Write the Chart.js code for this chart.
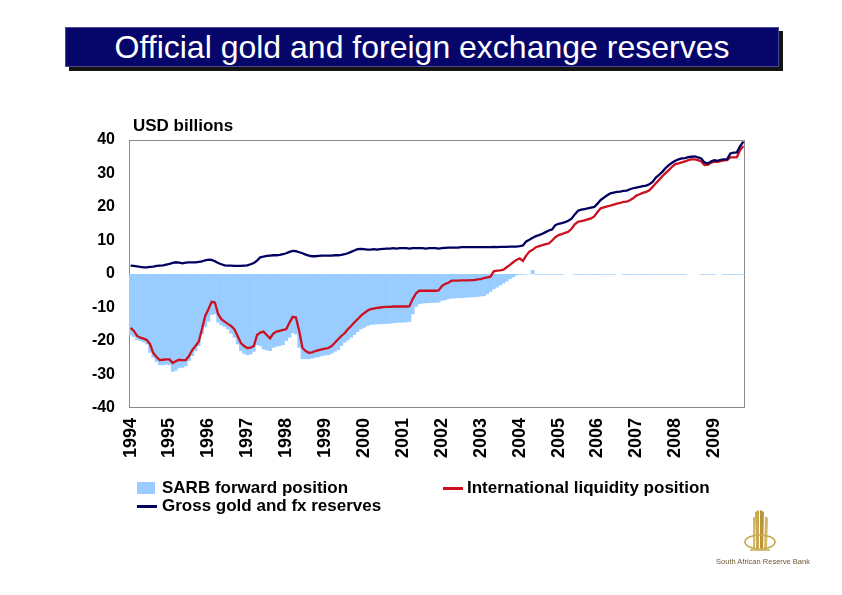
<!DOCTYPE html>
<html><head><meta charset="utf-8">
<script src="https://cdn.jsdelivr.net/npm/chart.js@4.4.1/dist/chart.umd.min.js"></script>
<style>
html,body{margin:0;padding:0;background:#fff;}
#wrap{position:relative;width:842px;height:595px;overflow:hidden;font-family:"Liberation Sans",Arial,sans-serif;color:#000;}
#c{position:absolute;left:0;top:0;}
#titleShadow{position:absolute;left:69px;top:31px;width:714px;height:40px;background:#141414;}
#title{position:absolute;left:65px;top:27px;width:714px;height:40px;background:#06066a;color:#fff;font-size:32px;line-height:39px;text-align:center;border:1px solid #4a4a90;box-sizing:border-box;}
#unit{position:absolute;left:133px;top:116px;font-weight:bold;font-size:17px;}
.leg{position:absolute;font-weight:bold;font-size:17px;line-height:20px;white-space:nowrap;}
.sw{position:absolute;}
#logoText{position:absolute;left:700px;top:557px;width:126px;text-align:center;font-size:7.5px;color:#6b5a2e;}
</style></head>
<body><div id="wrap">
<canvas id="c" width="842" height="595"></canvas>
<div id="titleShadow"></div>
<div id="title">Official gold and foreign exchange reserves</div>
<div id="unit">USD billions</div>
<div class="sw" style="left:137px;top:482px;width:18px;height:12px;background:#99ccff"></div>
<div class="leg" style="left:162px;top:478px">SARB forward position</div>
<div class="sw" style="left:443px;top:487px;width:20px;height:2.5px;background:#cc1020"></div>
<div class="leg" style="left:467px;top:478px">International liquidity position</div>
<div class="sw" style="left:137px;top:505px;width:20px;height:2.5px;background:#000060"></div>
<div class="leg" style="left:162px;top:496px">Gross gold and fx reserves</div>
<svg style="position:absolute;left:741px;top:508px" width="40" height="46" viewBox="0 0 40 46">
  <path d="M14 4 L18 2 L18 40 L15 40 Z" fill="#c9a94f"/>
  <path d="M19 2 L23 4 L22 40 L19 40 Z" fill="#b8953a"/>
  <path d="M24 8 L27 10 L26 40 L23 40 Z" fill="#d4b865"/>
  <path d="M12 10 L14 8 L14 40 L12 40 Z" fill="#d4b865"/>
  <ellipse cx="19" cy="34" rx="15" ry="7" fill="none" stroke="#c9a94f" stroke-width="1.6"/>
  <path d="M9 42 L29 42" stroke="#c9a94f" stroke-width="1.5"/>
</svg>
<div id="logoText">South African Reserve Bank</div>
</div>
<script>
const startYear = 1994;
const monthCount = 190; // Jan 1994 .. Oct 2009
const tickYears = [1994,1995,1996,1997,1998,1999,2000,2001,2002,2003,2004,2005,2006,2007,2008,2009];

const forwardPosition = [
 -18.3,-18.8,-19.7,-20.0,-20.4,-21.0,-23.5,-25.0,-26.2,-27.2,-27.2,-27.0,
 -27.2,-29.2,-28.8,-28.0,-28.0,-27.5,-26.0,-24.5,-23.0,-21.5,-18.0,-15.8,
 -14.2,-12.2,-12.0,-14.5,-15.3,-15.8,-16.5,-17.8,-19.0,-21.0,-23.0,-23.8,
 -24.2,-24.0,-23.2,-21.2,-21.5,-22.5,-22.8,-23.0,-22.0,-21.7,-21.5,-21.2,
 -20.0,-19.0,-17.7,-18.0,-22.0,-25.4,-25.4,-25.4,-25.2,-25.0,-24.8,-24.5,
 -24.3,-24.2,-23.8,-23.2,-22.7,-21.5,-20.5,-19.8,-19.0,-18.2,-17.3,-16.5,
 -16.0,-15.5,-15.2,-15.1,-15.0,-15.0,-14.9,-14.9,-14.8,-14.7,-14.6,-14.5,
 -14.5,-14.4,-14.3,-12.0,-9.8,-9.0,-8.8,-8.7,-8.7,-8.6,-8.6,-8.5,
 -8.0,-7.8,-7.5,-7.3,-7.3,-7.2,-7.2,-7.1,-7.0,-7.0,-6.9,-6.8,
 -6.7,-6.6,-6.0,-5.3,-4.5,-4.0,-3.4,-2.8,-2.2,-1.5,-1.0,-0.4,
 -0.2,-0.2,-0.1,-0.1,1.2,-0.2,-0.2,-0.2,-0.2,-0.2,-0.2,-0.2,
 -0.2,-0.2,0,0,0,-0.2,-0.2,-0.2,-0.2,-0.2,-0.2,-0.2,
 -0.2,-0.2,-0.2,-0.2,-0.2,-0.2,0,0,-0.2,-0.2,-0.2,-0.2,
 -0.2,-0.2,-0.2,-0.2,-0.2,-0.2,-0.2,-0.2,-0.2,-0.2,-0.2,-0.2,
 -0.2,-0.2,-0.2,-0.2,0,0,0,0,-0.2,-0.2,-0.2,-0.2,
 -0.2,0,0,-0.2,-0.2,-0.2,-0.2,-0.2,-0.2,-0.2
];

const liquidityPosition = [
 -16.1,-17.0,-18.5,-19.0,-19.3,-19.7,-21.0,-23.6,-24.8,-25.7,-25.6,-25.5,
 -25.5,-26.6,-26.0,-25.6,-25.7,-25.7,-24.5,-22.7,-21.5,-20.2,-16.5,-12.5,
 -10.5,-8.3,-8.5,-12.0,-13.5,-14.2,-14.9,-15.5,-16.5,-18.5,-20.6,-21.5,
 -22.1,-22.0,-21.5,-18.2,-17.5,-17.2,-18.2,-19.2,-17.8,-17.2,-17.0,-16.7,
 -16.5,-14.5,-12.8,-13.0,-17.0,-22.1,-23.0,-23.5,-23.4,-23.0,-22.7,-22.5,
 -22.3,-22.1,-21.5,-20.5,-19.5,-18.5,-17.7,-16.5,-15.5,-14.5,-13.5,-12.5,
 -11.7,-11.0,-10.5,-10.3,-10.1,-10.0,-9.9,-9.8,-9.8,-9.7,-9.7,-9.7,
 -9.7,-9.7,-9.6,-7.5,-5.8,-5.0,-5.0,-5.0,-5.0,-5.0,-5.0,-4.9,
 -3.6,-3.0,-2.6,-2.0,-2.0,-2.0,-1.9,-1.9,-1.9,-1.8,-1.8,-1.6,
 -1.5,-1.2,-1.0,-0.8,0.8,1.0,1.1,1.3,2.0,2.7,3.5,4.2,
 4.7,3.9,5.5,6.7,7.2,8.0,8.3,8.6,8.9,9.1,10.0,11.0,
 11.6,11.9,12.3,12.6,13.5,14.8,15.6,15.8,16.0,16.3,16.6,17.2,
 18.5,19.6,19.9,20.2,20.4,20.7,21.0,21.2,21.5,21.6,22.0,22.6,
 23.4,23.8,24.2,24.5,25.0,26.0,27.1,28.1,29.2,30.1,31.0,32.0,
 32.8,33.0,33.3,33.6,34.0,34.2,34.2,34.0,33.6,32.5,32.6,33.2,
 33.5,33.5,33.7,33.9,34.0,34.8,34.8,34.9,37.0,38.2
];

const grossReserves = [
 2.5,2.4,2.3,2.1,2.0,2.0,2.1,2.2,2.4,2.5,2.6,2.8,
 3.0,3.3,3.5,3.4,3.2,3.4,3.5,3.5,3.5,3.6,3.8,4.1,
 4.3,4.2,3.8,3.3,2.9,2.6,2.5,2.5,2.4,2.4,2.4,2.5,
 2.6,2.9,3.3,4.0,5.0,5.2,5.4,5.5,5.6,5.6,5.7,5.9,
 6.2,6.6,6.9,6.8,6.5,6.2,5.8,5.5,5.3,5.3,5.4,5.5,
 5.5,5.5,5.5,5.6,5.6,5.7,5.9,6.2,6.6,7.0,7.4,7.5,
 7.4,7.3,7.3,7.4,7.3,7.4,7.5,7.6,7.6,7.7,7.6,7.7,
 7.7,7.7,7.6,7.7,7.7,7.7,7.7,7.6,7.7,7.7,7.7,7.6,
 7.7,7.8,7.9,7.9,7.9,7.9,8.0,8.0,8.0,8.0,8.0,8.0,
 8.0,8.0,8.0,8.0,8.1,8.0,8.1,8.1,8.1,8.2,8.2,8.2,
 8.3,8.5,9.7,10.2,10.8,11.3,11.6,12.0,12.5,13.0,13.3,14.6,
 15.0,15.2,15.5,15.9,16.5,17.8,18.9,19.2,19.4,19.6,19.8,20.0,
 21.0,22.1,22.8,23.5,24.1,24.3,24.5,24.6,24.8,24.9,25.3,25.6,
 25.8,26.0,26.2,26.4,26.8,27.5,28.8,29.6,30.5,31.6,32.5,33.2,
 33.8,34.2,34.5,34.6,34.9,35.0,35.1,34.8,34.5,33.3,33.0,33.6,
 34.0,33.8,34.1,34.2,34.3,36.0,36.2,36.3,38.2,39.5
];

const monthLabels = [];
for (let i = 0; i < monthCount; i++) {
  const y = startYear + Math.floor(i / 12), m = (i % 12) + 1;
  monthLabels.push(y + '-' + String(m).padStart(2, '0'));
}

const FONT = '"Liberation Sans", Arial, sans-serif';

const framePlugin = {
  id: 'frame',
  beforeDatasetsDraw(chart) {
    const a = chart.chartArea, c = chart.ctx;
    c.save();
    c.strokeStyle = '#8a8a8a';
    c.lineWidth = 1;
    c.strokeRect(Math.round(a.left) + 0.5, Math.round(a.top) + 0.5, Math.round(a.right - a.left) - 1, Math.round(a.bottom - a.top) - 1);
    c.restore();
  }
};

new Chart(document.getElementById('c'), {
  type: 'bar',
  data: {
    labels: monthLabels,
    datasets: [
      { type: 'line', label: 'Gross gold and fx reserves', data: grossReserves, borderColor: '#000060', borderWidth: 2.3, pointRadius: 0, tension: 0, order: 1 },
      { type: 'line', label: 'International liquidity position', data: liquidityPosition, borderColor: '#cc1020', borderWidth: 2.3, pointRadius: 0, tension: 0, order: 2 },
      { type: 'bar', label: 'SARB forward position', data: forwardPosition, backgroundColor: '#99ccff', borderWidth: 0, barPercentage: 1.15, categoryPercentage: 1, order: 3 }
    ]
  },
  options: {
    responsive: false,
    animation: false,
    layout: { padding: { left: 0, top: 140, right: 97, bottom: 0 } },
    plugins: { legend: { display: false }, tooltip: { enabled: false }, title: { display: false } },
    scales: {
      x: {
        type: 'category', offset: true,
        grid: { display: false, drawTicks: false },
        border: { display: false },
        ticks: {
          autoSkip: false, maxRotation: 90, minRotation: 90, padding: 10, color: '#000',
          font: { family: FONT, size: 18, weight: 'bold' },
          callback: function (v, i) {
            const lab = monthLabels[i];
            const yr = parseInt(lab.slice(0, 4), 10);
            return (lab.endsWith('-01') && tickYears.includes(yr)) ? String(yr) : '';
          }
        },
        afterFit(s) { s.height = 187; }
      },
      y: {
        min: -40, max: 40,
        grid: { display: false, drawTicks: false },
        border: { display: false },
        ticks: { stepSize: 10, padding: 14, color: '#000', font: { family: FONT, size: 16, weight: 'bold' } },
        afterFit(s) { s.width = 129; }
      }
    }
  },
  plugins: [framePlugin]
});
</script>
</body></html>
